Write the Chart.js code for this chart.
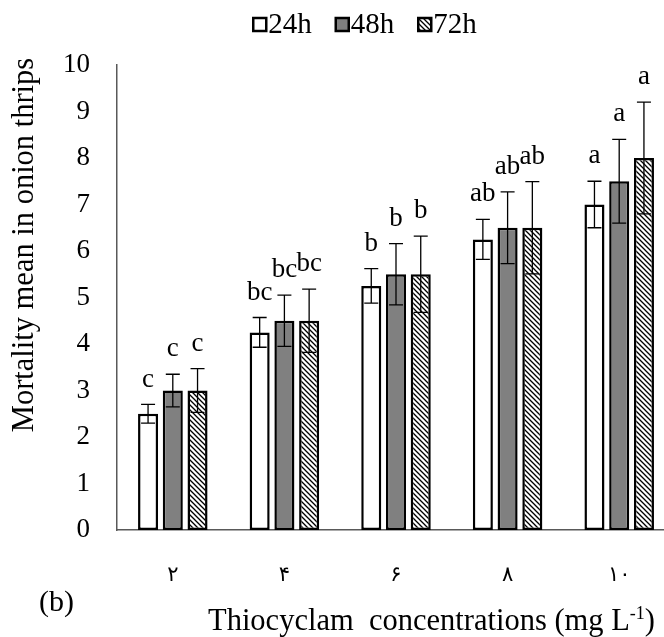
<!DOCTYPE html>
<html><head><meta charset="utf-8">
<script src="https://cdn.jsdelivr.net/npm/chart.js@4.4.1/dist/chart.umd.min.js"></script>
<style>html,body{margin:0;padding:0;overflow:hidden;background:#fff}</style>
</head><body>
<canvas id="c" width="680" height="637"></canvas>
<script>
// ---- data ----
const categories = ['۲', '۴', '۶', '۸', '۱۰'];
const seriesNames = ['24h', '48h', '72h'];
const mean24 = [2.5, 4.25, 5.25, 6.25, 7.0];
const mean48 = [3.0, 4.5, 5.5, 6.5, 7.5];
const mean72 = [3.0, 4.5, 5.5, 6.5, 8.0];
const err24 = [0.2, 0.32, 0.37, 0.43, 0.5];
const err48 = [0.35, 0.55, 0.66, 0.77, 0.9];
const err72 = [0.47, 0.68, 0.82, 0.99, 1.2];
const letters24 = ['c', 'bc', 'b', 'ab', 'a'];
const letters48 = ['c', 'bc', 'b', 'ab', 'a'];
const letters72 = ['c', 'bc', 'b', 'ab', 'a'];
const yMin = 0, yMax = 10, yStep = 1;
const yTitle = 'Mortality mean in onion thrips';
const xTitleMain = 'Thiocyclam  concentrations (mg L';
const xTitleSup = '-1';
const xTitleEnd = ')';
const panelLabel = '(b)';

// ---- styles ----
const SERIF = '"Liberation Serif", "Times New Roman", serif';
function makeHatch() {
  const s = 5;
  const p = document.createElement('canvas'); p.width = s; p.height = s;
  const g = p.getContext('2d');
  g.fillStyle = '#fff'; g.fillRect(0, 0, s, s);
  g.strokeStyle = '#000'; g.lineWidth = 1.3;
  g.beginPath();
  g.moveTo(-1, -1); g.lineTo(s + 1, s + 1);
  g.moveTo(-1, s - 1); g.lineTo(1, s + 1);
  g.moveTo(s - 1, -1); g.lineTo(s + 1, 1);
  g.stroke();
  return document.getElementById('c').getContext('2d').createPattern(p, 'repeat');
}
const hatch = makeHatch();
const fills = ['#ffffff', '#808080', hatch];

const means = [mean24, mean48, mean72];
const errs = [err24, err48, err72];
const lets = [letters24, letters48, letters72];

const datasets = seriesNames.map((n, i) => ({
  label: n,
  data: means[i],
  errors: errs[i],
  letters: lets[i],
  backgroundColor: fills[i],
  borderColor: '#000',
  borderWidth: 2.5,
  borderSkipped: false,
  categoryPercentage: 0.665,
  barPercentage: 0.81
}));

const deco = {
  id: 'deco',
  afterDatasetsDraw(chart) {
    const ctx = chart.ctx, y = chart.scales.y;
    chart.data.datasets.forEach((ds, i) => {
      const meta = chart.getDatasetMeta(i);
      meta.data.forEach((bar, j) => {
        const v = ds.data[j], e = ds.errors[j];
        const yt = y.getPixelForValue(v + e), yb = y.getPixelForValue(v - e);
        ctx.save();
        ctx.strokeStyle = '#000'; ctx.lineWidth = 1.3;
        ctx.beginPath();
        ctx.moveTo(bar.x, yt); ctx.lineTo(bar.x, yb);
        ctx.moveTo(bar.x - 7, yt); ctx.lineTo(bar.x + 7, yt);
        ctx.moveTo(bar.x - 7, yb); ctx.lineTo(bar.x + 7, yb);
        ctx.stroke();
        ctx.font = '27px ' + SERIF;
        ctx.fillStyle = '#000'; ctx.textAlign = 'center'; ctx.textBaseline = 'middle';
        ctx.fillText(ds.letters[j], bar.x, yt - 25);
        ctx.restore();
      });
    });
  },
  afterDraw(chart) {
    const ctx = chart.ctx;
    ctx.save();
    ctx.fillStyle = '#000';
    // legend
    ctx.font = '29px ' + SERIF;
    ctx.textBaseline = 'alphabetic'; ctx.textAlign = 'left';
    const box = 13, gap = 2, itemGap = 24;
    const items = chart.data.datasets.map(d => ({ d, w: ctx.measureText(d.label).width }));
    const total = items.reduce((a, it) => a + box + gap + it.w, 0) + itemGap * (items.length - 1);
    let x = 365 - total / 2;
    items.forEach(it => {
      ctx.fillStyle = it.d.backgroundColor;
      ctx.fillRect(x, 18, box, box);
      ctx.strokeStyle = '#000'; ctx.lineWidth = 2.5;
      ctx.strokeRect(x, 18, box, box);
      ctx.fillStyle = '#000';
      ctx.fillText(it.d.label, x + box + gap, 33);
      x += box + gap + it.w + itemGap;
    });
    // y title
    ctx.save();
    ctx.translate(33, 245);
    ctx.rotate(-Math.PI / 2);
    ctx.font = '30.5px ' + SERIF;
    ctx.textAlign = 'center'; ctx.textBaseline = 'alphabetic';
    ctx.fillText(yTitle, 0, 0);
    ctx.restore();
    // x title
    ctx.font = '30.5px ' + SERIF;
    ctx.textAlign = 'left'; ctx.textBaseline = 'alphabetic';
    let tx = 208;
    ctx.fillText(xTitleMain, tx, 630);
    tx += ctx.measureText(xTitleMain).width;
    ctx.font = '18px ' + SERIF;
    ctx.fillText(xTitleSup, tx, 619);
    tx += ctx.measureText(xTitleSup).width;
    ctx.font = '30.5px ' + SERIF;
    ctx.fillText(xTitleEnd, tx, 630);
    // panel label
    ctx.font = '30px ' + SERIF;
    ctx.fillText(panelLabel, 39, 611);
    ctx.restore();
  }
};

new Chart(document.getElementById('c'), {
  type: 'bar',
  data: { labels: categories, datasets },
  plugins: [deco],
  options: {
    responsive: false,
    animation: false,
    layout: { padding: { top: 65, right: 5, bottom: 0, left: 0 } },
    plugins: { legend: { display: false }, tooltip: { enabled: false } },
    scales: {
      x: {
        grid: { display: false, drawTicks: false },
        border: { display: true, color: '#595959', width: 1.5 },
        ticks: { font: { family: 'DejaVu Sans', size: 21 }, color: '#000', padding: 33 },
        afterFit(s) { s.height = 107; }
      },
      y: {
        min: yMin, max: yMax,
        grid: { display: false, drawTicks: false },
        border: { display: true, color: '#595959', width: 1.5 },
        ticks: { stepSize: yStep, font: { family: SERIF, size: 27 }, color: '#000', padding: 27 },
        afterFit(s) { s.width = 117; }
      }
    }
  }
});
</script>
</body></html>
